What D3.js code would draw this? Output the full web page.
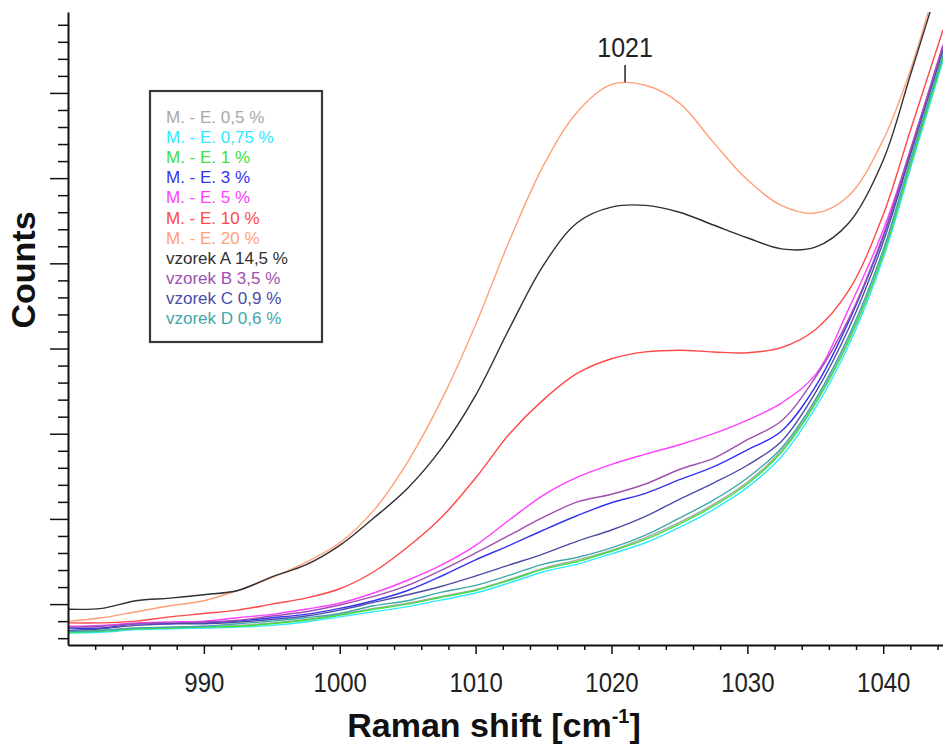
<!DOCTYPE html>
<html>
<head>
<meta charset="utf-8">
<script src="https://cdn.jsdelivr.net/npm/d3@7"></script>
<style>
  body { margin: 0; background: #fff; }
  text { font-family: Arial, "Liberation Sans", sans-serif; }
</style>
</head>
<body>
<svg id="chart" width="943" height="744"></svg>
<script>
// Raman shift grid [cm-1]
const shift = [980, 982.5, 985, 987.5, 990, 992.5, 995, 997.5, 1000, 1002.5, 1005, 1007.5, 1010,
  1012.5, 1015, 1017.5, 1020, 1022.5, 1025, 1027.5, 1030, 1032.5, 1035, 1037.5, 1040, 1042, 1044.4];

// counts (arbitrary units)
const me05 = [680, 690, 720, 730, 740, 750, 780, 820, 880, 950, 1010, 1090, 1170, 1290, 1420, 1520,
  1630, 1780, 1960, 2170, 2430, 2800, 3370, 4120, 5120, 6170, 7430];
const me075 = [660, 670, 700, 710, 720, 730, 750, 790, 850, 910, 970, 1050, 1130, 1250, 1380, 1470,
  1590, 1720, 1900, 2110, 2370, 2730, 3300, 4050, 5060, 6110, 7380];
const me1 = [670, 680, 710, 720, 730, 740, 770, 810, 870, 940, 1000, 1080, 1160, 1280, 1410, 1500,
  1620, 1760, 1940, 2150, 2410, 2780, 3350, 4100, 5100, 6150, 7410];
const me3 = [720, 720, 770, 770, 780, 800, 840, 880, 950, 1040, 1160, 1330, 1520, 1690, 1870, 2040,
  2190, 2300, 2460, 2610, 2810, 3030, 3550, 4330, 5310, 6310, 7540];
const me5 = [740, 750, 780, 790, 800, 840, 880, 940, 1010, 1130, 1280, 1460, 1690, 1990, 2280, 2490,
  2640, 2760, 2870, 3000, 3160, 3360, 3690, 4480, 5390, 6330, 7560];
const me10 = [780, 780, 800, 850, 890, 930, 1000, 1070, 1180, 1380, 1670, 2020, 2480, 3000, 3400, 3710,
  3880, 3960, 3980, 3960, 3950, 4010, 4220, 4690, 5570, 6560, 7740];
const me20 = [800, 840, 910, 980, 1040, 1160, 1310, 1490, 1720, 2100, 2670, 3400, 4280, 5270, 6150, 6780,
  7100, 7090, 6880, 6420, 5980, 5680, 5590, 5800, 6450, 7270, 8560];
const vzorekA = [940, 950, 1040, 1070, 1110, 1160, 1320, 1460, 1690, 2010, 2360, 2830, 3450, 4240, 4980, 5480,
  5660, 5680, 5600, 5450, 5300, 5170, 5190, 5480, 6210, 7210, 8440];
const vzorekB = [730, 740, 770, 780, 790, 810, 860, 910, 990, 1090, 1220, 1400, 1600, 1810, 2020, 2200,
  2290, 2410, 2580, 2710, 2930, 3150, 3660, 4360, 5330, 6330, 7560];
const vzorekC = [690, 710, 750, 770, 770, 790, 820, 860, 930, 1020, 1110, 1210, 1330, 1460, 1590, 1740,
  1870, 2030, 2230, 2420, 2630, 2910, 3480, 4250, 5250, 6270, 7500];
const vzorekD = [680, 690, 720, 730, 740, 770, 800, 840, 890, 980, 1040, 1140, 1220, 1340, 1470, 1550,
  1660, 1810, 2010, 2220, 2480, 2830, 3400, 4160, 5160, 6210, 7450];

const seriesNames = ['M. - E. 0,5 %', 'M. - E. 0,75 %', 'M. - E. 1 %', 'M. - E. 3 %', 'M. - E. 5 %',
  'M. - E. 10 %', 'M. - E. 20 %', 'vzorek A 14,5 %', 'vzorek B 3,5 %', 'vzorek C 0,9 %', 'vzorek D 0,6 %'];
const seriesValues = [me05, me075, me1, me3, me5, me10, me20, vzorekA, vzorekB, vzorekC, vzorekD];
const seriesColors = ['#a8a8a8', '#30e8ff', '#40e040', '#3434f0', '#ff40ff', '#ff4848', '#ffa078',
  '#303030', '#a050b0', '#4c4ca8', '#40a8a8'];

const xMajor = [990, 1000, 1010, 1020, 1030, 1040];
const xMinor = d3.range(982, 1045, 2).filter(v => v % 10 !== 0);
const yMajor = d3.range(1000, 7001, 1000);
const yMinor = d3.range(600, 7801, 200).filter(v => v % 1000 !== 0);
const peakLabel = 1021;

const svg = d3.select('#chart');
const m = { left: 68, right: 943, top: 12, bottom: 645 };

const x = d3.scaleLinear().domain([980, 1044.4]).range([m.left, m.right]);
const y = d3.scaleLinear().domain([520, 7950]).range([m.bottom, m.top]);

svg.append('clipPath').attr('id', 'plot')
  .append('rect').attr('x', m.left).attr('y', m.top)
  .attr('width', m.right - m.left).attr('height', m.bottom - m.top);

const line = d3.line()
  .x((d, i) => x(shift[i]))
  .y(d => y(d))
  .curve(d3.curveCatmullRom.alpha(0.5));

const lines = svg.append('g').attr('clip-path', 'url(#plot)');
seriesValues.forEach((vals, i) => {
  lines.append('path')
    .attr('d', line(vals))
    .attr('fill', 'none')
    .attr('stroke', seriesColors[i])
    .attr('stroke-width', 1.4);
});

// axes
const xAxis = svg.append('g').attr('transform', `translate(0,${m.bottom})`)
  .call(d3.axisBottom(x).tickValues(xMajor).tickSize(9).tickSizeOuter(0).tickFormat(d3.format('d')));
svg.append('g').attr('transform', `translate(0,${m.bottom})`)
  .call(d3.axisBottom(x).tickValues(xMinor).tickSize(5).tickFormat(''))
  .call(g => g.select('.domain').remove());

svg.append('g').attr('transform', `translate(${m.left},0)`)
  .call(d3.axisLeft(y).tickValues(yMajor).tickSize(18).tickSizeOuter(0).tickFormat(''));
svg.append('g').attr('transform', `translate(${m.left},0)`)
  .call(d3.axisLeft(y).tickValues(yMinor).tickSize(10).tickFormat(''))
  .call(g => g.select('.domain').remove());

svg.selectAll('.domain').attr('stroke', '#111').attr('stroke-width', 2);
svg.selectAll('.tick line').attr('stroke', '#111').attr('stroke-width', 1.5);
// the labels in the picture are a bit taller than plain Arial
xAxis.selectAll('.tick text')
  .attr('y', null).attr('dy', null)
  .attr('transform', 'translate(0,47) scale(1,1.12)')
  .attr('font-size', 24).attr('fill', '#222')
  .attr('font-family', 'Arial, "Liberation Sans", sans-serif');

// axis titles
const title = svg.append('text')
  .attr('x', 494).attr('y', 737)
  .attr('text-anchor', 'middle')
  .attr('font-size', 34).attr('font-weight', 'bold').attr('fill', '#111');
title.append('tspan').text('Raman shift [cm');
title.append('tspan').attr('font-size', 20).attr('dy', -14).text('-1');
title.append('tspan').attr('dy', 14).text(']');

svg.append('text')
  .attr('transform', 'translate(35,270) rotate(-90)')
  .attr('text-anchor', 'middle')
  .attr('font-size', 34).attr('font-weight', 'bold').attr('fill', '#111')
  .text('Counts');

// peak annotation
const peakIdx = d3.bisectLeft(shift, peakLabel);
svg.append('line')
  .attr('x1', x(peakLabel)).attr('x2', x(peakLabel))
  .attr('y1', 65).attr('y2', y(me20[peakIdx]) - 3)
  .attr('stroke', '#222').attr('stroke-width', 1.5);
svg.append('text')
  .attr('transform', `translate(${x(peakLabel)},57) scale(1,1.12)`)
  .attr('text-anchor', 'middle')
  .attr('font-size', 25).attr('fill', '#222')
  .text(peakLabel);

// legend
const legend = svg.append('g');
legend.append('rect')
  .attr('x', 150).attr('y', 91).attr('width', 172).attr('height', 251)
  .attr('fill', '#fff').attr('stroke', '#3a3a3a').attr('stroke-width', 2.2);
seriesNames.forEach((name, i) => {
  legend.append('text')
    .attr('x', 166).attr('y', 123 + i * 20.1)
    .attr('font-size', 17)
    .attr('fill', seriesColors[i])
    .text(name);
});
</script>
</body>
</html>
